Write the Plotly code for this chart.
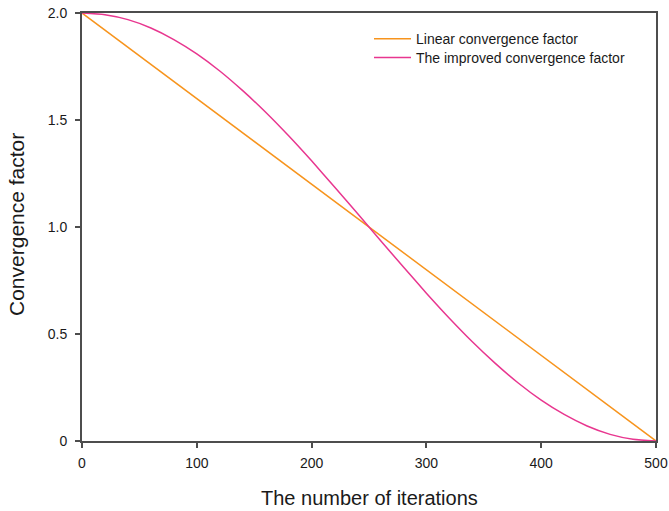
import plotly.graph_objects as go

iters = [0, 20, 40, 60, 80, 100, 120, 140, 160, 180, 200, 220, 240, 260, 280, 300, 320, 340, 360, 380, 400, 420, 440, 460, 480, 500]
linear = [2.0, 1.92, 1.84, 1.76, 1.68, 1.6, 1.52, 1.44, 1.36, 1.28, 1.2, 1.12, 1.04, 0.96, 0.88, 0.8, 0.72, 0.64, 0.56, 0.48, 0.4, 0.32, 0.24, 0.16, 0.08, 0.0]
improved = [2.000, 1.992, 1.969, 1.930, 1.876, 1.809, 1.729, 1.637, 1.536, 1.426, 1.309, 1.187, 1.063,
            0.937, 0.813, 0.691, 0.574, 0.464, 0.363, 0.271, 0.191, 0.124, 0.070, 0.031, 0.008, 0.000]

xticks = [0, 100, 200, 300, 400, 500]
yticks = [0, 0.5, 1.0, 1.5, 2.0]
yticklabels = ["0", "0.5", "1.0", "1.5", "2.0"]

fig = go.Figure()
fig.add_trace(go.Scatter(x=iters, y=linear, mode="lines", name="Linear convergence factor",
                         line=dict(color="#f7941d", width=1.5), legend="legend"))
fig.add_trace(go.Scatter(x=iters, y=improved, mode="lines", name="The improved convergence factor",
                         line=dict(color="#e8368f", width=1.5, shape="spline", smoothing=0.6), legend="legend2"))

axis_col = "#4d4d4d"
txt_col = "#1a1a1a"
leg_common = dict(x=0.5, xanchor="left", yanchor="middle", bgcolor="rgba(0,0,0,0)",
                  font=dict(size=14, color=txt_col), itemwidth=37)
fig.update_layout(
    width=669, height=511,
    margin=dict(l=82, r=13, t=13, b=70, autoexpand=False),
    paper_bgcolor="white", plot_bgcolor="white",
    font=dict(family="Liberation Sans, Arial, sans-serif", color=txt_col),
    legend=dict(y=0.939, **leg_common),
    legend2=dict(y=0.895, **leg_common),
    showlegend=True,
    annotations=[
        dict(text="The number of iterations", xref="paper", yref="paper", x=0.5, y=-0.133,
             xanchor="center", yanchor="middle", showarrow=False, font=dict(size=20, color=txt_col)),
        dict(text="Convergence factor", xref="paper", yref="paper", x=-0.113, y=0.505,
             xanchor="center", yanchor="middle", showarrow=False, textangle=-90,
             font=dict(size=21, color=txt_col)),
    ],
)
fig.update_xaxes(range=[0, 500], tickvals=xticks, ticks="outside", ticklen=5, tickcolor=axis_col, tickwidth=1.5,
                 showline=True, linecolor=axis_col, linewidth=2, mirror=True, showgrid=False, zeroline=False,
                 tickfont=dict(size=14, color=txt_col), automargin=False, ticklabelstandoff=3)
fig.update_yaxes(range=[0, 2.0], tickvals=yticks, ticktext=yticklabels, ticks="outside", ticklen=5,
                 tickcolor=axis_col, tickwidth=1.5, showline=True, linecolor=axis_col, linewidth=2, mirror=True,
                 showgrid=False, zeroline=False, tickfont=dict(size=14, color=txt_col), automargin=False,
                 ticklabelstandoff=5)

fig.write_html("out.html")
